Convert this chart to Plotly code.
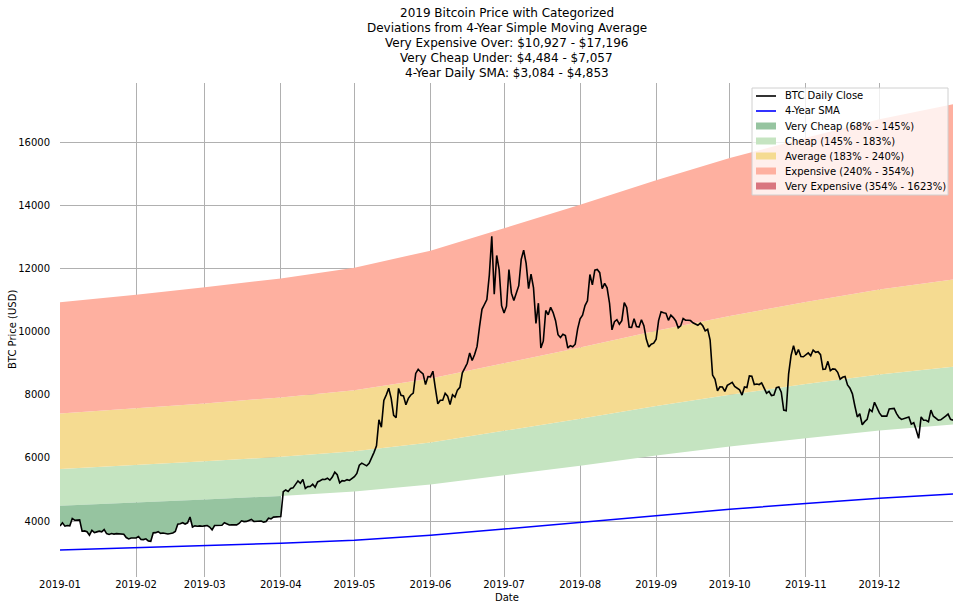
import pandas as pd
import plotly.graph_objects as go

# ---------------- data ----------------
price_jan = [3843, 3943, 3837, 3858, 3846, 4077, 4026, 4031, 4035, 3678, 3687, 3661, 3552, 3706, 3630, 3656,
             3679, 3658, 3728, 3601, 3576, 3604, 3585, 3600, 3599, 3602, 3583, 3476, 3432, 3463, 3459]
price_feb = [3464, 3508, 3413, 3411, 3435, 3371, 3359, 3625, 3631, 3661, 3607, 3618, 3603, 3591, 3603, 3619,
             3667, 3899, 3916, 3947, 3905, 3943, 4128, 3809, 3846, 3833, 3845, 3833]
price_mar = [3845, 3858, 3808, 3716, 3857, 3861, 3873, 3864, 3944, 3916, 3872, 3877, 3866, 3878, 3923, 4006,
             3982, 3987, 4018, 4048, 3985, 3995, 4005, 4000, 3964, 3985, 4088, 4070, 4123, 4128, 4111]
price_apr = [4139, 4925, 4983, 4935, 5028, 5050, 5168, 5271, 5196, 5317, 5034, 5090, 5093, 5165, 5067, 5236,
             5273, 5318, 5314, 5354, 5294, 5392, 5546, 5464, 5210, 5279, 5269, 5310, 5284, 5350]
price_may = [5402, 5505, 5768, 5831, 5795, 5747, 5829, 5982, 6174, 6379, 7204, 6972, 7814, 7994, 8205, 7884,
             7343, 7271, 8198, 7978, 7963, 7680, 7882, 7991, 8052, 8673, 8805, 8719, 8659, 8319, 8574]
price_jun = [8564, 8742, 8208, 7707, 7824, 7822, 8043, 7954, 7688, 8000, 7927, 8145, 8231, 8693, 8838, 8994,
             9320, 9081, 9273, 9527, 10144, 10701, 10855, 11011, 11790, 13016, 11182, 12407, 11959, 10817]
price_jul = [10583, 10801, 11961, 11215, 10979, 11208, 11450, 12285, 12573, 12156, 11358, 11815, 11393, 10256,
             10896, 9477, 9693, 10666, 10530, 10767, 10599, 10343, 9900, 9811, 9911, 9871, 9477, 9552, 9519,
             9597, 10085]
price_aug = [10400, 10519, 10821, 10970, 11805, 11478, 11941, 11966, 11862, 11354, 11523, 11382, 10895, 10051,
             10311, 10374, 10231, 10345, 10916, 10763, 10138, 10131, 10407, 10159, 10138, 10370, 10185, 9754,
             9510, 9598, 9630]
price_sep = [9757, 10346, 10623, 10594, 10575, 10353, 10517, 10441, 10334, 10115, 10178, 10410, 10360, 10358,
             10347, 10276, 10241, 10198, 10266, 10181, 10019, 10070, 9729, 8620, 8486, 8118, 8251, 8245, 8104,
             8293]
price_oct = [8343, 8393, 8260, 8205, 8151, 7988, 8245, 8228, 8595, 8586, 8321, 8336, 8321, 8374, 8205, 8047,
             8103, 7973, 7988, 8222, 8243, 8078, 7514, 7493, 8660, 9244, 9551, 9256, 9427, 9205, 9199]
price_nov = [9261, 9324, 9235, 9413, 9342, 9360, 9267, 8804, 8813, 9055, 8757, 8815, 8808, 8708, 8491, 8550,
             8577, 8309, 8206, 8027, 7642, 7296, 7397, 7047, 7146, 7218, 7531, 7463, 7761, 7569]
price_dec = [7424, 7321, 7321, 7320, 7547, 7556, 7564, 7400, 7278, 7217, 7243, 7269, 7291, 7068, 7112, 6882,
             6617, 7296, 7193, 7191, 7145, 7512, 7318, 7256, 7191, 7205, 7255, 7318, 7385, 7220, 7193]

sma_dates = ["2019-01-01", "2019-02-01", "2019-03-01", "2019-04-01", "2019-05-01", "2019-06-01", "2019-07-01",
             "2019-08-01", "2019-09-01", "2019-10-01", "2019-11-01", "2019-12-01", "2019-12-31"]
sma_values = [3084, 3150, 3218, 3297, 3392, 3545, 3745, 3955, 4175, 4372, 4555, 4720, 4853]

band_names = ["Very Cheap (68% - 145%)", "Cheap (145% - 183%)", "Average (183% - 240%)",
              "Expensive (240% - 354%)", "Very Expensive (354% - 1623%)"]
band_mult = [0.68, 1.454, 1.83, 2.40, 3.543, 16.23]
band_colors = ["#96c4a0", "#c5e4c1", "#f5db91", "#feb0a0", "#d9757f"]

line_names = ["BTC Daily Close", "4-Year SMA"]
line_colors = ["#000000", "#0000ff"]

y_ticks = [4000, 6000, 8000, 10000, 12000, 14000, 16000]

title_lines = ["2019 Bitcoin Price with Categorized",
               "Deviations from 4-Year Simple Moving Average",
               "Very Expensive Over: $10,927 - $17,196",
               "Very Cheap Under: $4,484 - $7,057",
               "4-Year Daily SMA: $3,084 - $4,853"]
x_title = "Date"
y_title = "BTC Price (USD)"

# ---------------- build ----------------
price = (price_jan + price_feb + price_mar + price_apr + price_may + price_jun + price_jul +
         price_aug + price_sep + price_oct + price_nov + price_dec)
dates = pd.date_range("2019-01-01", "2019-12-31", freq="D")
sma_d = pd.to_datetime(sma_dates)

def band(m):
    return [v * m for v in sma_values]

FONT = "DejaVu Sans"
W, H = 960, 610
# plot area in screen pixels: x 60..953, y 83..577
SX0, SX1, SY0, SY1 = 60, 953, 83, 577
ML, MR, MT, MB = SX0, W - SX1, SY0, H - SY1
PW, PH = SX1 - SX0, SY1 - SY0

def px(x):   # pixel x -> paper
    return (x - SX0) / PW

def py(y):   # pixel y -> paper
    return (SY1 - y) / PH

fig = go.Figure()

# Regular bands: 145 -> 183 -> 240 -> 354
fig.add_trace(go.Scatter(x=sma_d, y=band(band_mult[1]), mode="lines", line=dict(width=0),
                         showlegend=False, hoverinfo="skip"))
for i in (1, 2, 3):
    fig.add_trace(go.Scatter(x=sma_d, y=band(band_mult[i + 1]), mode="lines", line=dict(width=0),
                             fill="tonexty", fillcolor=band_colors[i], name=band_names[i]))

# Very cheap: between price and 145% line while price is below it (Jan 1 - Apr 1)
n_vc = 91
vc_mask = sma_d <= pd.Timestamp("2019-04-01")
fig.add_trace(go.Scatter(x=sma_d[vc_mask], y=[v for v, k in zip(band(band_mult[1]), vc_mask) if k],
                         mode="lines", line=dict(width=0), showlegend=False, hoverinfo="skip"))
fig.add_trace(go.Scatter(x=dates[:n_vc], y=price[:n_vc], mode="lines", line=dict(width=0),
                         fill="tonexty", fillcolor=band_colors[0], name=band_names[0]))

fig.add_trace(go.Scatter(x=sma_d, y=sma_values, mode="lines", line=dict(color=line_colors[1], width=1.5),
                         name=line_names[1]))
fig.add_trace(go.Scatter(x=dates, y=price, mode="lines", line=dict(color=line_colors[0], width=1.6),
                         name=line_names[0]))

# ---------------- legend (matplotlib style, drawn manually) ----------------
shapes = []
annotations = []
LX0, LX1, LY0, LY1 = 752, 948, 88, 195
shapes.append(dict(type="rect", xref="paper", yref="paper", x0=px(LX0), x1=px(LX1), y0=py(LY1), y1=py(LY0),
                   fillcolor="rgba(255,255,255,0.8)", line=dict(color="#d0d0d0", width=1), layer="above"))
entries = [(line_names[0], "line", line_colors[0]), (line_names[1], "line", line_colors[1])]
entries += [(band_names[k], "rect", band_colors[k]) for k in range(5)]
for j, (name, kind, col) in enumerate(entries):
    yc = 96 + 15 * j
    if kind == "line":
        shapes.append(dict(type="line", xref="paper", yref="paper", x0=px(756), x1=px(776), y0=py(yc), y1=py(yc),
                           line=dict(color=col, width=1.6), layer="above"))
    else:
        shapes.append(dict(type="rect", xref="paper", yref="paper", x0=px(756), x1=px(776), y0=py(yc + 3.5),
                           y1=py(yc - 3.5), fillcolor=col, line=dict(width=0), layer="above"))
    annotations.append(dict(text=name, xref="paper", yref="paper", x=px(783), y=py(yc), xanchor="left",
                            yanchor="middle", showarrow=False, font=dict(size=10, family=FONT, color="#000")))

# ---------------- titles ----------------
for k, t in enumerate(title_lines):
    annotations.append(dict(text=t, xref="paper", yref="paper", x=0.5, y=py(13 + 15 * k), xanchor="center",
                            yanchor="middle", showarrow=False, font=dict(size=12, family=FONT, color="#000")))
annotations.append(dict(text=x_title, xref="paper", yref="paper", x=0.5, y=py(597), xanchor="center",
                        yanchor="middle", showarrow=False, font=dict(size=10, family=FONT, color="#000")))
annotations.append(dict(text=y_title, xref="paper", yref="paper", x=px(12), y=py(330), xanchor="center",
                        yanchor="middle", textangle=-90, showarrow=False,
                        font=dict(size=10, family=FONT, color="#000")))

fig.update_layout(
    width=W, height=H,
    margin=dict(l=ML, r=MR, t=MT, b=MB, autoexpand=False),
    paper_bgcolor="white", plot_bgcolor="white",
    font=dict(family=FONT, size=10, color="#000000"),
    showlegend=False,
    shapes=shapes,
    annotations=annotations,
    xaxis=dict(range=["2019-01-01", "2019-12-31"], tickformat="%Y-%m", dtick="M1", tick0="2019-01-01",
               showgrid=True, gridcolor="#b0b0b0", gridwidth=1, showline=False, zeroline=False,
               ticks="", automargin=False),
    yaxis=dict(range=[2227, 17868], tickvals=y_ticks, ticktext=[str(v) for v in y_ticks],
               showgrid=True, gridcolor="#b0b0b0", gridwidth=1, showline=False, zeroline=False,
               ticks="outside", ticklen=7, tickcolor="rgba(0,0,0,0)", automargin=False),
)

fig.write_html("out.html", config={"displayModeBar": False},
               post_script="document.body.style.margin='0';document.body.style.overflow='hidden';")
